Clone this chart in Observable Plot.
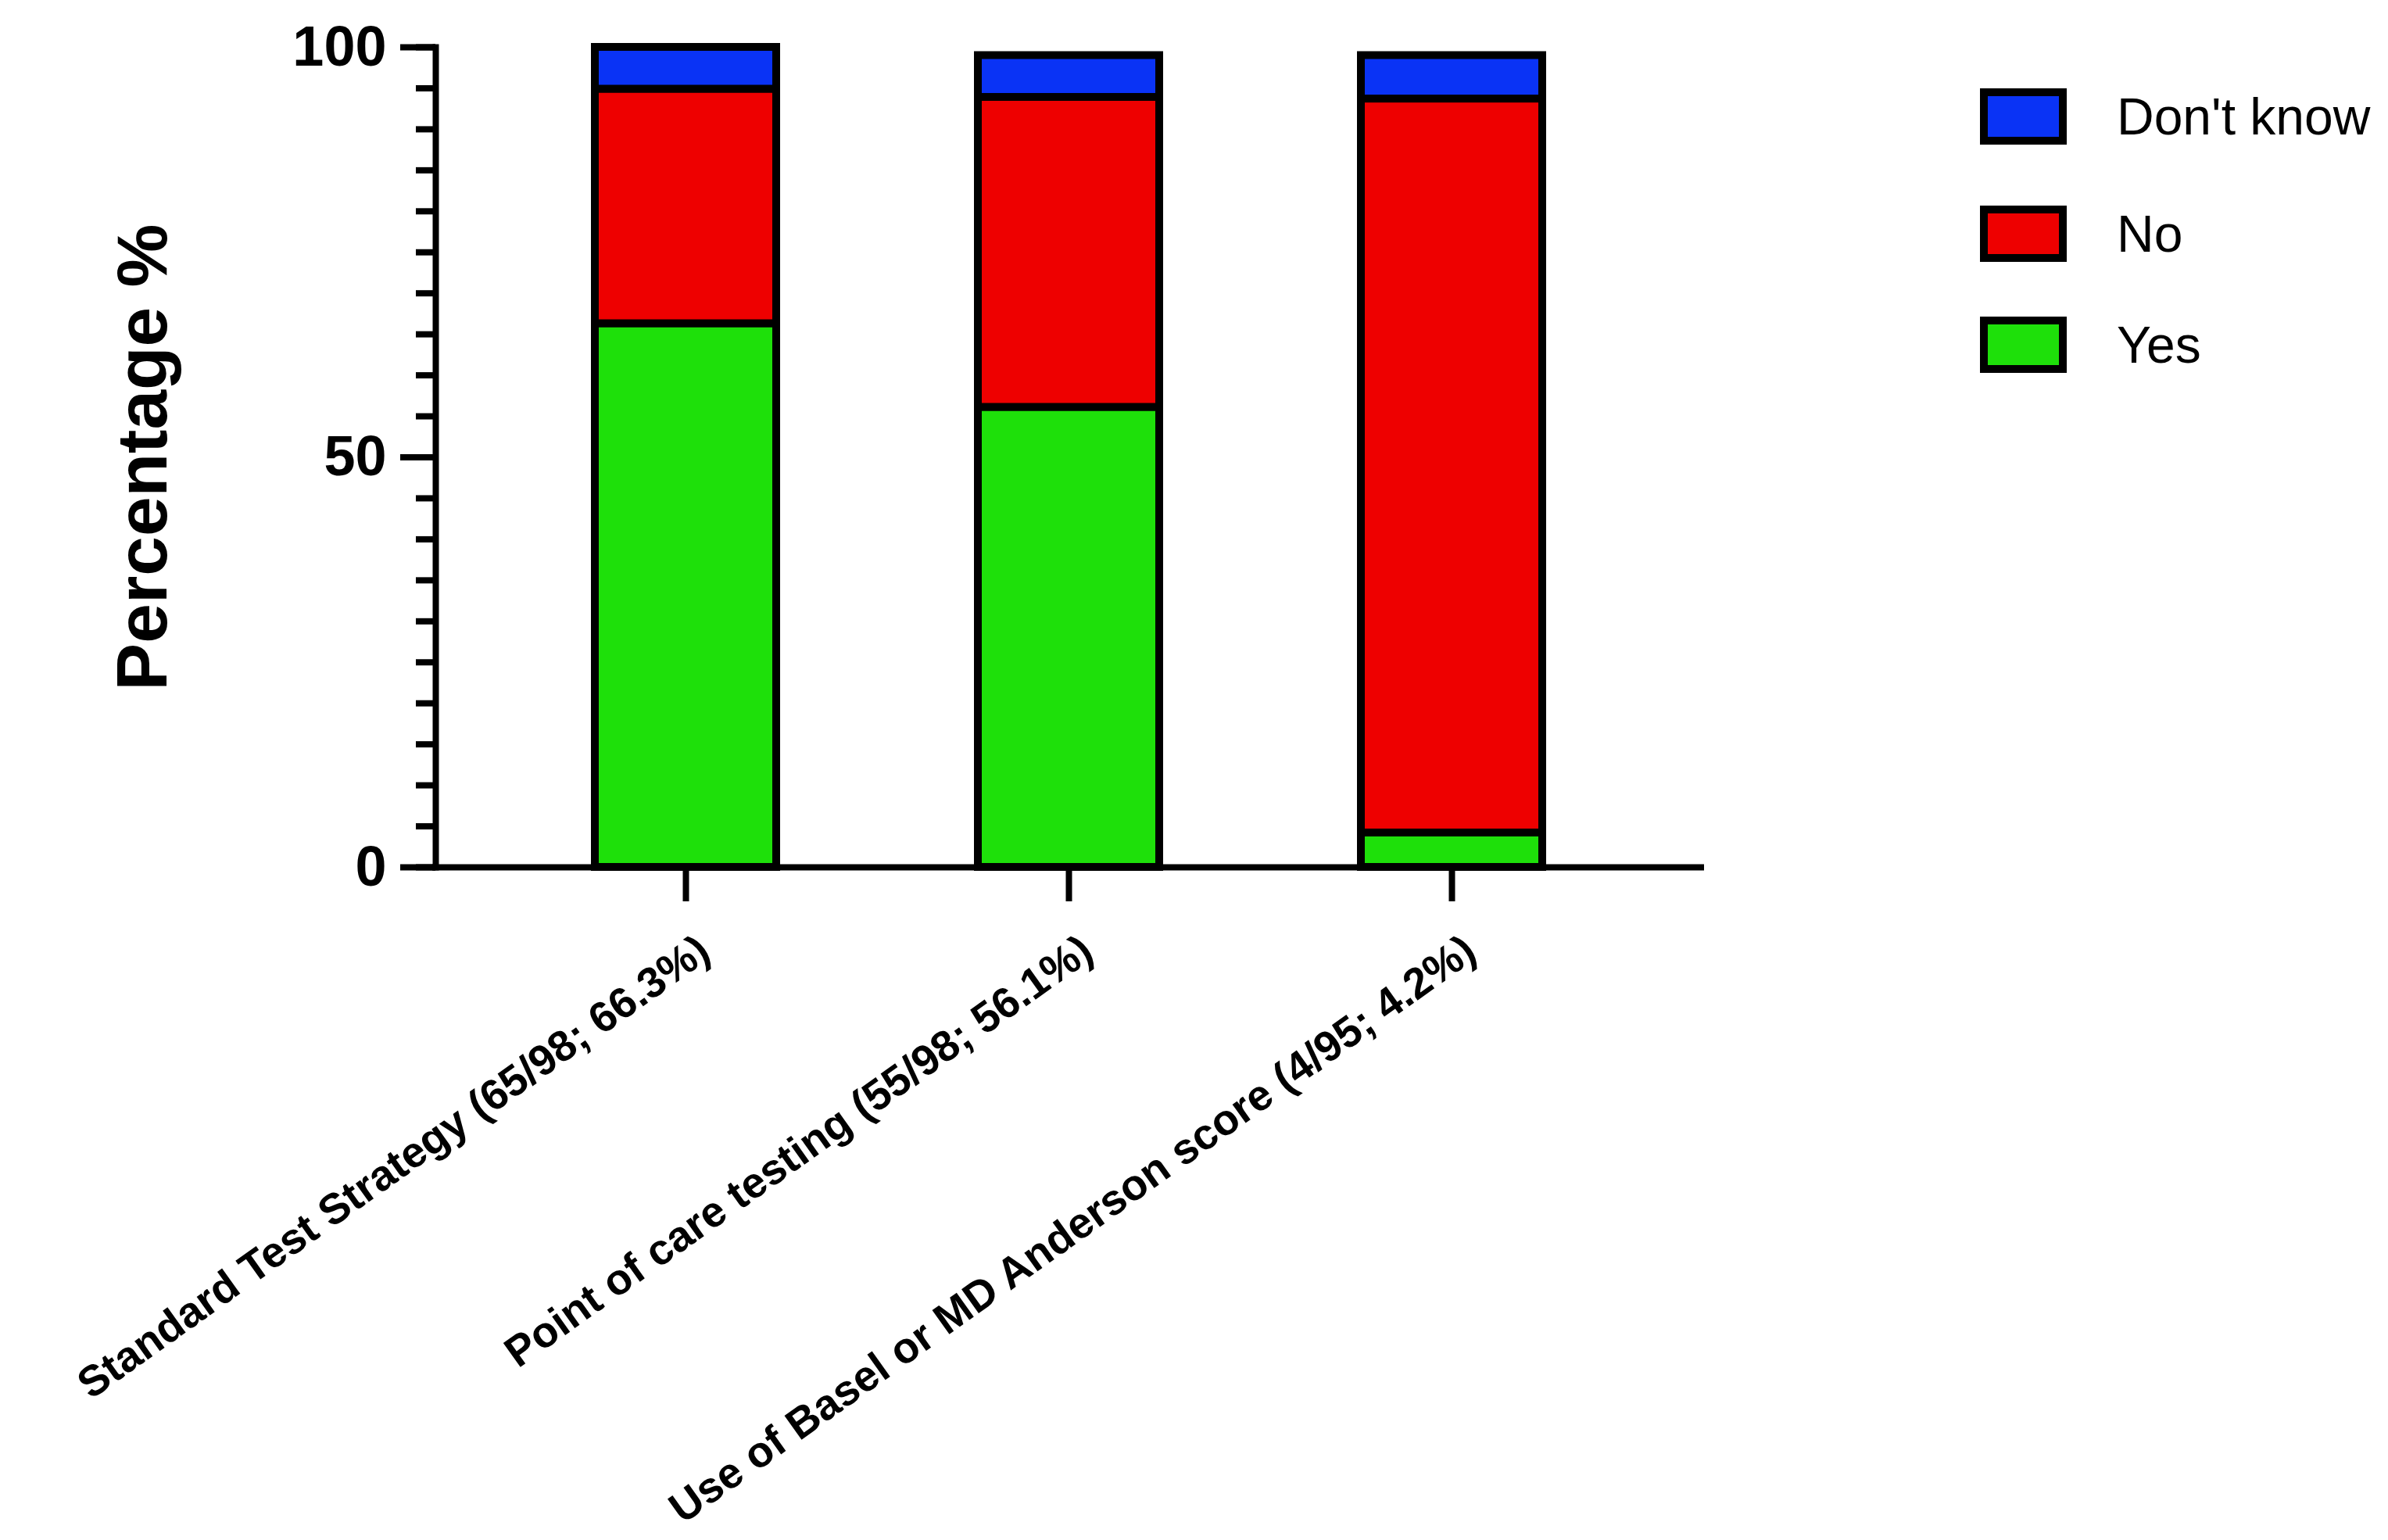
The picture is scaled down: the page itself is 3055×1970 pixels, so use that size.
<!DOCTYPE html>
<html>
<head>
<meta charset="utf-8">
<script src="https://cdn.jsdelivr.net/npm/d3@7"></script>
<script src="https://cdn.jsdelivr.net/npm/@observablehq/plot@0.6"></script>
<style>
  html, body { margin: 0; padding: 0; background: #fff; }
  #wrap { position: relative; width: 3055px; height: 1970px; overflow: hidden; }
  g[aria-label="y-axis label"] text { font-size: 91px; font-weight: bold; }
  #legend { position: absolute; left: 2533px; top: 0; font-family: "Liberation Sans", Arial, sans-serif; }
  .item { position: absolute; left: 0; height: 72px; display: flex; align-items: center; white-space: nowrap; }
  .sw { width: 111px; height: 72px; box-sizing: border-box; border: 10px solid #000; flex: none; }
  .lbl { margin-left: 64px; font-size: 66px; line-height: 72px; color: #000; }
</style>
</head>
<body>
<div id="wrap"><div id="chart"></div><div id="legend"></div></div>
<script>
// ---- data ----
const categories = [
  "Standard Test Strategy (65/98; 66.3%)",
  "Point of care testing (55/98; 56.1%)",
  "Use of Basel or MD Anderson score (4/95; 4.2%)"
];
const answers = ["Yes", "No", "Don't know"];          // stacking order, bottom to top
const legendOrder = ["Don't know", "No", "Yes"];      // legend order, top to bottom
const yesPct = [66.3, 56.1, 4.2];
const noPct = [28.6, 37.8, 89.5];
const dontKnowPct = [5.1, 5.1, 5.3];
const answerColors = ["#0a33f5", "#ee0000", "#1ee00a"]; // Don't know, No, Yes
const yMajorTicks = [0, 50, 100];
const yMinorTicks = [0, 5, 10, 15, 20, 25, 30, 35, 40, 45, 50, 55, 60, 65, 70, 75, 80, 85, 90, 95, 100];

const seriesByAnswer = {"Yes": yesPct, "No": noPct, "Don't know": dontKnowPct};
const table = [];
categories.forEach((c, i) => {
  answers.forEach(a => table.push({category: c, answer: a, value: seriesByAnswer[a][i]}));
});

const font = "'Liberation Sans', Arial, Helvetica, sans-serif";

const chart = Plot.plot({
  width: 3055,
  height: 1970,
  marginLeft: 557,
  marginRight: 879,
  marginTop: 60,
  marginBottom: 861,
  style: {fontFamily: font, background: "white", color: "black", overflow: "visible"},
  x: {domain: categories, paddingInner: 0.527, paddingOuter: 0.414, label: null},
  y: {domain: [0, 100], label: "Percentage %"},
  color: {domain: legendOrder, range: answerColors},
  marks: [
    Plot.barY(table, {x: "category", y: "value", fill: "answer", stroke: "black", strokeWidth: 10, order: answers}),
    Plot.axisY({ticks: yMinorTicks, tickSize: 25, tickFormat: () => "", strokeWidth: 8, label: null}),
    Plot.axisY({
      ticks: yMajorTicks, tickSize: 45, tickPadding: 18, strokeWidth: 8,
      fontSize: 72, fontWeight: "bold",
      label: "Percentage %", labelAnchor: "center", labelArrow: "none", labelOffset: 409
    }),
    Plot.axisX({tickSize: 44, strokeWidth: 8, tickFormat: () => "", label: null}),
    Plot.axisX({
      tickSize: 0, tickPadding: 100, dx: 24, tickRotate: -35.5,
      fontSize: 55, fontWeight: "bold", label: null
    }),
    Plot.ruleY([0], {strokeWidth: 8, strokeLinecap: "square"}),
    Plot.frame({anchor: "left", strokeWidth: 8, strokeLinecap: "square"})
  ]
});
document.getElementById("chart").appendChild(chart);

// ---- legend ----
const legendTops = [113, 263, 405];
const legend = document.getElementById("legend");
legendOrder.forEach((a, i) => {
  const item = document.createElement("div");
  item.className = "item";
  item.style.top = legendTops[i] + "px";
  const sw = document.createElement("div");
  sw.className = "sw";
  sw.style.background = answerColors[i];
  const lbl = document.createElement("span");
  lbl.className = "lbl";
  lbl.textContent = a;
  item.appendChild(sw);
  item.appendChild(lbl);
  legend.appendChild(item);
});
</script>
</body>
</html>
